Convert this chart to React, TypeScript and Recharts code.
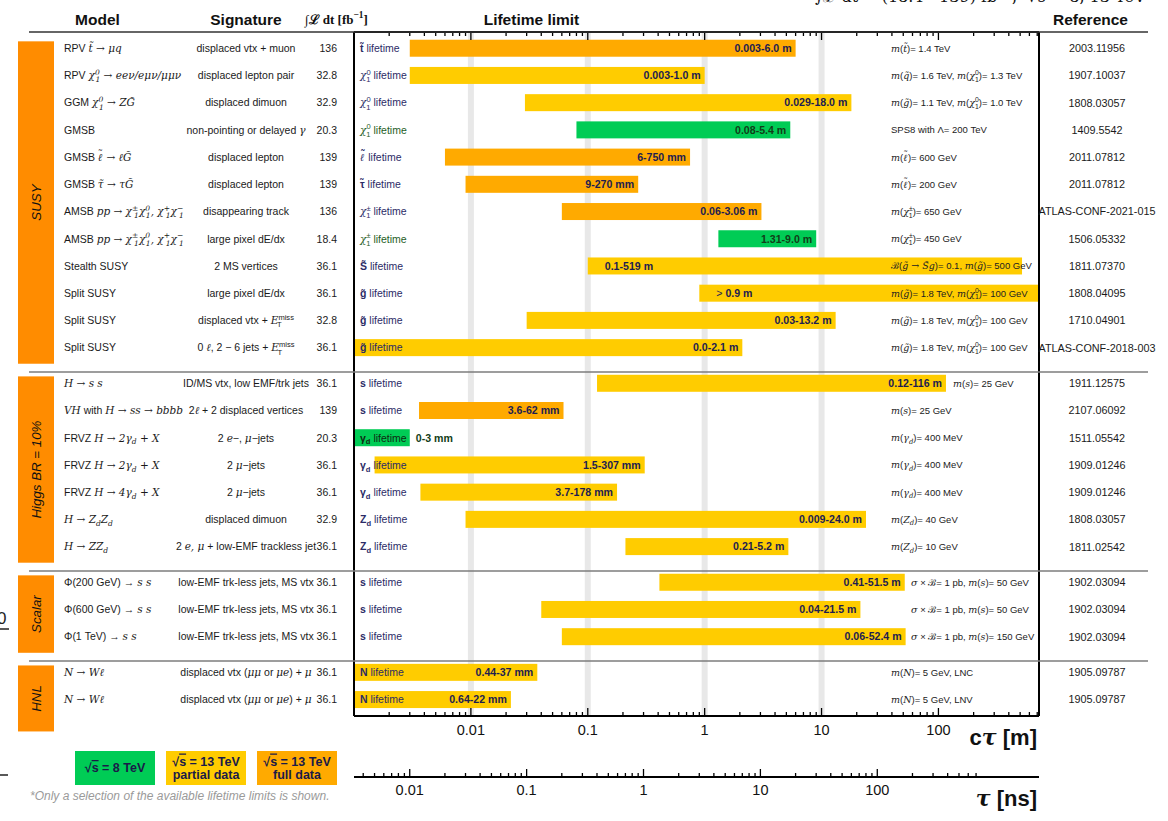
import React from 'react';
import { ComposedChart, Bar, XAxis, YAxis, ReferenceLine, CartesianGrid } from 'recharts';

const SANS = '"Liberation Sans", Arial, Helvetica, sans-serif';
const SERIF = '"DejaVu Serif", "Liberation Serif", serif';

// ---------------- data ----------------
const GROUPS = ['SUSY', 'Higgs BR = 10%', 'Scalar', 'HNL'];
const GROUP_OF_ROW = [0, 0, 0, 0, 0, 0, 0, 0, 0, 0, 0, 0, 1, 1, 1, 1, 1, 1, 1, 2, 2, 2, 3, 3];

const MODELS = [
  'RPV $t̃ → μq$',
  'RPV $χ^{0}_{1} → eeν/eμν/μμν$',
  'GGM $χ^{0}_{1} → ZG̃$',
  'GMSB',
  'GMSB $~{ℓ} → ℓG̃$',
  'GMSB $τ̃ → τG̃$',
  'AMSB $pp → χ^{±}_{1}χ^{0}_{1}, χ^{+}_{1}χ^{−}_{1}$',
  'AMSB $pp → χ^{±}_{1}χ^{0}_{1}, χ^{+}_{1}χ^{−}_{1}$',
  'Stealth SUSY',
  'Split SUSY',
  'Split SUSY',
  'Split SUSY',
  '$H → s s$',
  '$VH$ with $H → ss → bbbb$',
  'FRVZ $H → 2γ_{d} + X$',
  'FRVZ $H → 2γ_{d} + X$',
  'FRVZ $H → 4γ_{d} + X$',
  '$H → Z_{d}Z_{d}$',
  '$H → ZZ_{d}$',
  'Φ(200 GeV) → $s s$',
  'Φ(600 GeV) → $s s$',
  'Φ(1 TeV) → $s s$',
  '$N → Wℓ$',
  '$N → Wℓ$',
];

const SIGNATURES = [
  'displaced vtx + muon',
  'displaced lepton pair',
  'displaced dimuon',
  'non-pointing or delayed $γ$',
  'displaced lepton',
  'displaced lepton',
  'disappearing track',
  'large pixel dE/dx',
  '2 MS vertices',
  'large pixel dE/dx',
  'displaced vtx + $E$_{T}^{miss}',
  '0 $ℓ$, 2 − 6 jets + $E$_{T}^{miss}',
  'ID/MS vtx, low EMF/trk jets',
  '2$ℓ$ + 2 displaced vertices',
  '2 $e$−, $μ$−jets',
  '2 $μ$−jets',
  '2 $μ$−jets',
  'displaced dimuon',
  '2 $e, μ$ + low-EMF trackless jet',
  'low-EMF trk-less jets, MS vtx',
  'low-EMF trk-less jets, MS vtx',
  'low-EMF trk-less jets, MS vtx',
  'displaced vtx ($μμ$ or $μe$) + $μ$',
  'displaced vtx ($μμ$ or $μe$) + $μ$',
];

const LUMI = ['136', '32.8', '32.9', '20.3', '139', '139', '136', '18.4', '36.1', '36.1', '32.8', '36.1',
  '36.1', '139', '20.3', '36.1', '36.1', '32.9', '36.1', '36.1', '36.1', '36.1', '36.1', '36.1'];

const PARTICLES = [
  '*t̃* lifetime',
  '$χ$^{0}_{1} lifetime',
  '$χ$^{0}_{1} lifetime',
  '$χ$^{0}_{1} lifetime',
  '*$~{ℓ}$* lifetime',
  '*τ̃* lifetime',
  '$χ$^{±}_{1} lifetime',
  '$χ$^{±}_{1} lifetime',
  '*S̃* lifetime',
  '*g̃* lifetime',
  '*g̃* lifetime',
  '*g̃* lifetime',
  '*s* lifetime',
  '*s* lifetime',
  '*γ_{d}* lifetime',
  '*γ_{d}* lifetime',
  '*γ_{d}* lifetime',
  '*Z_{d}* lifetime',
  '*Z_{d}* lifetime',
  '*s* lifetime',
  '*s* lifetime',
  '*s* lifetime',
  '*N* lifetime',
  '*N* lifetime',
];

// dataset: '8' = sqrt(s)=8 TeV, 'partial' = 13 TeV partial data, 'full' = 13 TeV full data
const DATASET = ['full', 'partial', 'partial', '8', 'full', 'full', 'full', '8', 'partial', 'partial', 'partial', 'partial',
  'partial', 'full', '8', 'partial', 'partial', 'partial', 'partial',
  'partial', 'partial', 'partial', 'partial', 'partial'];

// excluded c*tau range [m]
const CTAU_LOW = [0.003, 0.003, 0.029, 0.08, 0.006, 0.009, 0.06, 1.31, 0.1, 0.9, 0.03, 0,
  0.12, 0.0036, 0, 0.0015, 0.0037, 0.009, 0.21, 0.41, 0.04, 0.06, 0.00044, 0.00064];
const CTAU_HIGH = [6.0, 1.0, 18.0, 5.4, 0.75, 0.27, 3.06, 9.0, 519, Infinity, 13.2, 2.1,
  116, 0.062, 0.003, 0.307, 0.178, 24.0, 5.2, 51.5, 21.5, 52.4, 0.037, 0.022];
const LIMIT_TEXT = ['0.003-6.0 m', '0.003-1.0 m', '0.029-18.0 m', '0.08-5.4 m', '6-750 mm', '9-270 mm',
  '0.06-3.06 m', '1.31-9.0 m', '0.1-519 m', '> 0.9 m', '0.03-13.2 m', '0.0-2.1 m',
  '0.12-116 m', '3.6-62 mm', '0-3 mm', '1.5-307 mm', '3.7-178 mm', '0.009-24.0 m', '0.21-5.2 m',
  '0.41-51.5 m', '0.04-21.5 m', '0.06-52.4 m', '0.44-37 mm', '0.64-22 mm'];

const ASSUMPTIONS = [
  '$m$($t̃$)= 1.4 TeV',
  '$m$($q̃$)= 1.6 TeV, $m$($χ$^{0}_{1})= 1.3 TeV',
  '$m$($g̃$)= 1.1 TeV, $m$($χ$^{0}_{1})= 1.0 TeV',
  'SPS8 with Λ= 200 TeV',
  '$m$($~{ℓ}$)= 600 GeV',
  '$m$($~{ℓ}$)= 200 GeV',
  '$m$($χ$^{±}_{1})= 650 GeV',
  '$m$($χ$^{±}_{1})= 450 GeV',
  'ℬ($g̃ → S̃g$)= 0.1, $m$($g̃$)= 500 GeV',
  '$m$($g̃$)= 1.8 TeV, $m$($χ$^{0}_{1})= 100 GeV',
  '$m$($g̃$)= 1.8 TeV, $m$($χ$^{0}_{1})= 100 GeV',
  '$m$($g̃$)= 1.8 TeV, $m$($χ$^{0}_{1})= 100 GeV',
  '$m$($s$)= 25 GeV',
  '$m$($s$)= 25 GeV',
  '$m$($γ_{d}$)= 400 MeV',
  '$m$($γ_{d}$)= 400 MeV',
  '$m$($γ_{d}$)= 400 MeV',
  '$m$($Z_{d}$)= 40 GeV',
  '$m$($Z_{d}$)= 10 GeV',
  '$σ$ × ℬ= 1 pb, $m$($s$)= 50 GeV',
  '$σ$ × ℬ= 1 pb, $m$($s$)= 50 GeV',
  '$σ$ × ℬ= 1 pb, $m$($s$)= 150 GeV',
  '$m$($N$)= 5 GeV, LNC',
  '$m$($N$)= 5 GeV, LNV',
];

const REFERENCES = ['2003.11956', '1907.10037', '1808.03057', '1409.5542', '2011.07812', '2011.07812',
  'ATLAS-CONF-2021-015', '1506.05332', '1811.07370', '1808.04095', '1710.04901', 'ATLAS-CONF-2018-003',
  '1911.12575', '2107.06092', '1511.05542', '1909.01246', '1909.01246', '1808.03057', '1811.02542',
  '1902.03094', '1902.03094', '1902.03094', '1905.09787', '1905.09787'];

const CTAU_MAJOR = [0.01, 0.1, 1, 10, 100];
const TAU_MAJOR = [0.01, 0.1, 1, 10, 100];
const DECADE_BANDS = [0.01, 0.1, 1, 10];
const DECADES = [0.001, 0.01, 0.1, 1, 10, 100];

// ---------------- layout / style ----------------
const COLORS: Record<string, string> = { '8': '#00CC55', partial: '#FFCC00', full: '#FFAA00' };
const GROUP_BOX = '#FF8C00';
const NAVY = '#2b2b66';
const DKGREEN = '#1f5e26';

const X_MIN = 0.001;
const X_MAX = 725;
const C_LIGHT = 0.299792458; // m per ns
const TAU_MIN = X_MIN / C_LIGHT;
const TAU_MAX = X_MAX / C_LIGHT;
const TAU_TICK_LIMIT = 700;

const GAP = 0.31;
const ROW_POS = GROUP_OF_ROW.map((g, i) => i + g * GAP);
const Y_MIN = -0.6;
const Y_MAX = ROW_POS[ROW_POS.length - 1] + 0.6;

const W = 1168;
const H = 821;
const MARGIN = { top: 0, right: 129, bottom: 14, left: 0 };
const TOP_AXIS_H = 32;
const CT_AXIS_H = 61;
const TAU_AXIS_H = 30;
const Y_AXIS_W = 354;
const PLOT_H = H - MARGIN.top - MARGIN.bottom - TOP_AXIS_H - CT_AXIS_H - TAU_AXIS_H;
const PX_PER_ROW = PLOT_H / (Y_MAX - Y_MIN);

const ASSUMPTION_X_DEFAULT = 891;
const ASSUMPTION_X_OVERRIDE: Record<number, number> = { 12: 953, 19: 911, 20: 911, 21: 911 };
const LABEL_PLACE: Record<number, string> = { 8: 'start', 9: 'start', 14: 'outside' };

const buildTicks = (lo: number, hi: number) => {
  const out: number[] = [];
  DECADES.forEach((d) => {
    for (let k = 1; k <= 9; k++) {
      const v = +(k * d).toPrecision(6);
      if (v > lo * 1.0001 && v <= hi * 1.0001) out.push(v);
    }
  });
  return out;
};
const CT_TICKS = buildTicks(X_MIN, X_MAX);
const TAU_TICKS = buildTicks(TAU_MIN, TAU_TICK_LIMIT);

const chartData = ROW_POS.map((pos, i) => ({
  row: i,
  pos,
  range: [Math.max(CTAU_LOW[i], X_MIN), Math.min(CTAU_HIGH[i], X_MAX)],
}));

// ---------------- rich text ----------------
type Seg = { kind: 'n' | 'sup' | 'sub' | 'stack' | 'acc'; text: string; sup?: string; sub?: string; italic: boolean; bold: boolean };

function parseRich(s: string): Seg[] {
  const segs: Seg[] = [];
  let italic = false;
  let bold = false;
  let buf = '';
  const flush = () => {
    if (buf) {
      segs.push({ kind: 'n', text: buf, italic, bold });
      buf = '';
    }
  };
  let i = 0;
  while (i < s.length) {
    const c = s[i];
    if (c === '$') { flush(); italic = !italic; i++; continue; }
    if (c === '*') { flush(); bold = !bold; i++; continue; }
    if (c === '~' && s[i + 1] === '{') {
      flush();
      const end = s.indexOf('}', i);
      segs.push({ kind: 'acc', text: s.slice(i + 2, end), italic, bold });
      i = end + 1;
      continue;
    }
    if ((c === '^' || c === '_') && s[i + 1] === '{') {
      flush();
      const end = s.indexOf('}', i);
      const content = s.slice(i + 2, end);
      let j = end + 1;
      let sup: string | undefined;
      let sub: string | undefined;
      if (c === '^') sup = content; else sub = content;
      const c2 = s[j];
      if ((c2 === '^' || c2 === '_') && c2 !== c && s[j + 1] === '{') {
        const end2 = s.indexOf('}', j);
        const content2 = s.slice(j + 2, end2);
        if (c2 === '^') sup = content2; else sub = content2;
        j = end2 + 1;
      }
      if (sup !== undefined && sub !== undefined) segs.push({ kind: 'stack', text: '', sup, sub, italic, bold });
      else if (sup !== undefined) segs.push({ kind: 'sup', text: sup, italic, bold });
      else segs.push({ kind: 'sub', text: sub as string, italic, bold });
      i = j;
      continue;
    }
    buf += c;
    i++;
  }
  flush();
  return segs;
}

const estW = (s: string, size: number) => s.length * size * 0.56;

function Rich({ x, y, text, size, anchor = 'start', fill = '#1a1a1a', bold = false, family = SANS }: any) {
  const segs = parseRich(text);
  const small = size * 0.72;
  const out: any[] = [];
  let cur = 0;
  let pend = 0;
  segs.forEach((sg, k) => {
    const st: any = {};
    if (sg.italic) { st.fontStyle = 'italic'; st.fontFamily = SERIF; }
    if (sg.bold) st.fontWeight = 'bold';
    if (sg.kind === 'n') {
      out.push(<tspan key={k} dx={pend || undefined} dy={-cur} {...st}>{sg.text}</tspan>);
      cur = 0; pend = 0;
    } else if (sg.kind === 'acc') {
      // base glyph with a tilde placed above it
      const baseW = size * 0.45;
      const tilW = size * 0.5;
      const up = -size * 0.3;
      out.push(<tspan key={k + 'a'} dx={pend || undefined} dy={-cur} {...st}>{sg.text}</tspan>);
      out.push(<tspan key={k + 'b'} dx={-(baseW + tilW) / 2 + size * 0.06} dy={up} {...st} fontStyle="normal">{'˜'}</tspan>);
      cur = up; pend = (baseW - tilW) / 2 + size * 0.02;
    } else if (sg.kind === 'sup' || sg.kind === 'sub') {
      const t = sg.kind === 'sup' ? -size * 0.4 : size * 0.28;
      out.push(<tspan key={k} dx={pend || undefined} dy={t - cur} fontSize={small} {...st}>{sg.text}</tspan>);
      cur = t; pend = 0;
    } else {
      const t1 = -size * 0.42;
      const t2 = size * 0.3;
      const w1 = estW(sg.sup as string, small);
      const w2 = estW(sg.sub as string, small);
      out.push(<tspan key={k + 'a'} dx={pend || undefined} dy={t1 - cur} fontSize={small} {...st}>{sg.sup}</tspan>);
      out.push(<tspan key={k + 'b'} dx={-w1} dy={t2 - t1} fontSize={small} {...st}>{sg.sub}</tspan>);
      cur = t2; pend = Math.max(0, w1 - w2);
    }
  });
  return (
    <text x={x} y={y} textAnchor={anchor} fontSize={size} fill={fill} fontFamily={family}
      fontWeight={bold ? 'bold' : 'normal'} style={{ whiteSpace: 'pre' }}>
      {out}
    </text>
  );
}

// ---------------- renderers ----------------
function RowTick(props: any) {
  const { y, payload } = props;
  const i = ROW_POS.indexOf(payload?.value);
  if (i < 0 || y == null) return <g />;
  const g = GROUP_OF_ROW[i];
  const first = i === 0 || GROUP_OF_ROW[i - 1] !== g;
  const nRows = GROUP_OF_ROW.filter((v) => v === g).length;
  const base = y + 3.7;
  const ds = DATASET[i];
  const labelOnBar = CTAU_LOW[i] <= X_MIN;
  const particleColor = ds === '8' ? (labelOnBar ? '#0f2a12' : DKGREEN) : NAVY;
  const els: any[] = [];
  if (first) {
    const top = y - 7;
    const h = Math.max((nRows - 1) * PX_PER_ROW + 23, 66);
    els.push(<rect key="gb" x={18} y={top} width={36} height={h} fill={GROUP_BOX} />);
    els.push(
      <text key="gt" transform={`translate(41, ${top + h / 2}) rotate(-90)`} textAnchor="middle"
        fontSize={13.3} fontStyle="italic" fontFamily={SANS} fill="#111">{GROUPS[g]}</text>
    );
    if (g > 0) {
      const ly = y - 0.42 * PX_PER_ROW;
      els.push(<line key="sep" x1={29} x2={1148} y1={ly} y2={ly} stroke="#7c7c7c" strokeWidth={1.5} />);
    }
  }
  return (
    <g>
      {els}
      <Rich x={64} y={base} text={MODELS[i]} size={10.5} />
      <Rich x={246} y={base} text={SIGNATURES[i]} size={10.5} anchor="middle" />
      <text x={337} y={base} textAnchor="end" fontSize={10.5} fontFamily={SANS} fill="#1a1a1a">{LUMI[i]}</text>
      <Rich x={360} y={base} text={PARTICLES[i]} size={10.5} fill={particleColor} />
      <Rich x={ASSUMPTION_X_OVERRIDE[i] ?? ASSUMPTION_X_DEFAULT} y={y + 3.3} text={ASSUMPTIONS[i]} size={9.5} fill="#222" />
      <text x={1097} y={y + 3.8} textAnchor="middle" fontSize={10.8} fontFamily={SANS} fill="#1a1a1a">{REFERENCES[i]}</text>
    </g>
  );
}

function LimitBar(props: any) {
  const { x, y, width, height, payload } = props;
  if (x == null || width == null) return <g />;
  const i = payload?.row ?? props.index;
  const ds = DATASET[i];
  const place = LABEL_PLACE[i] ?? 'end';
  let tx = x + width - 4;
  let anchor = 'end';
  if (place === 'start') { tx = x + 17; anchor = 'start'; }
  if (place === 'outside') { tx = x + width + 6; anchor = 'start'; }
  const label = LIMIT_TEXT[i];
  const color = ds === '8' ? '#123d18' : '#1d1d50';
  const isGt = label.startsWith('>');
  return (
    <g>
      <rect x={x} y={y} width={width} height={height} fill={COLORS[ds]} />
      <text x={tx} y={y + height / 2 + 3.8} textAnchor={anchor} fontSize={10.6} fontWeight="bold"
        fontFamily={SANS} fill={color} style={{ whiteSpace: 'pre' }}>
        {isGt ? (<><tspan fontWeight="normal">{'>'}</tspan><tspan>{label.slice(1)}</tspan></>) : label}
      </text>
    </g>
  );
}

const isMajor = (v: number, majors: number[]) => majors.some((m) => Math.abs(m - v) / m < 1e-6);

const makeXTick = (dir: number, labelDy: number | null, majors: number[]) => (props: any) => {
  const { x, y, payload } = props;
  const v = payload?.value;
  if (x == null || v == null) return <g />;
  const major = isMajor(v, majors);
  const len = major ? 8 : 4;
  return (
    <g>
      <line x1={x} x2={x} y1={y} y2={y + dir * len} stroke="#000" strokeWidth={1.3} />
      {major && labelDy !== null && (
        <text x={x} y={y + labelDy} textAnchor="middle" fontSize={14.5} fontFamily={SANS} fill="#111">{String(v)}</text>
      )}
    </g>
  );
};

const TopTick = makeXTick(1, null, CTAU_MAJOR);
const CtTick = makeXTick(-1, 19, CTAU_MAJOR);
const TauTick = makeXTick(-1, 18, TAU_MAJOR);

function Overlay() {
  return (
    <svg width={W} height={H} style={{ position: 'absolute', left: 0, top: 0, pointerEvents: 'none' }}>
      {/* cut-off luminosity label at the very top */}
      <text x={815} y={2} fontSize={16} fontFamily={SERIF} fill="#111" style={{ whiteSpace: 'pre' }}>∫ℒ dt = (18.4 - 139) fb⁻¹,  √s = 8, 13 TeV</text>
      {/* header */}
      <text x={97.5} y={24.5} textAnchor="middle" fontSize={15.5} fontWeight="bold" fontFamily={SANS} fill="#111">Model</text>
      <text x={246} y={24.5} textAnchor="middle" fontSize={15.5} fontWeight="bold" fontFamily={SANS} fill="#111">Signature</text>
      <Rich x={305} y={23.5} text="∫ℒ dt [fb^{−1}]" size={13} bold family='"Liberation Serif", serif' fill="#111" />
      <text x={531.5} y={24.5} textAnchor="middle" fontSize={15.5} fontWeight="bold" fontFamily={SANS} fill="#111">Lifetime limit</text>
      <text x={1090.5} y={24.5} textAnchor="middle" fontSize={15.5} fontWeight="bold" fontFamily={SANS} fill="#111">Reference</text>
      <line x1={29} x2={1148} y1={32} y2={32} stroke="#333" strokeWidth={1.6} />
      {/* axis titles */}
      <text x={1037} y={745} textAnchor="end" fontSize={22} fontWeight="bold" fontFamily={SANS} fill="#111" style={{ whiteSpace: 'pre' }}>
        c<tspan fontFamily={SERIF} fontStyle="italic">τ</tspan> [m]
      </text>
      <text x={1037} y={806} textAnchor="end" fontSize={22} fontWeight="bold" fontFamily={SANS} fill="#111" style={{ whiteSpace: 'pre' }}>
        <tspan fontFamily={SERIF} fontStyle="italic">τ</tspan> [ns]
      </text>
      {/* legend */}
      <rect x={75} y={751} width={80} height={34} fill={COLORS['8']} />
      <text x={115} y={772} textAnchor="middle" fontSize={12.5} fontWeight="bold" fontFamily={SANS} fill="#1a1a48">
        √<tspan style={{ textDecoration: 'overline' }}>s</tspan> = 8 TeV
      </text>
      <rect x={166} y={751} width={80} height={34} fill={COLORS.partial} />
      <text x={206} y={765.5} textAnchor="middle" fontSize={12.5} fontWeight="bold" fontFamily={SANS} fill="#1a1a48">
        √<tspan style={{ textDecoration: 'overline' }}>s</tspan> = 13 TeV
      </text>
      <text x={206} y={779} textAnchor="middle" fontSize={12.5} fontWeight="bold" fontFamily={SANS} fill="#1a1a48">partial data</text>
      <rect x={257} y={751} width={80} height={34} fill={COLORS.full} />
      <text x={297} y={765.5} textAnchor="middle" fontSize={12.5} fontWeight="bold" fontFamily={SANS} fill="#1a1a48">
        √<tspan style={{ textDecoration: 'overline' }}>s</tspan> = 13 TeV
      </text>
      <text x={297} y={779} textAnchor="middle" fontSize={12.5} fontWeight="bold" fontFamily={SANS} fill="#1a1a48">full data</text>
      {/* footnote */}
      <text x={30} y={800} fontSize={12} fontStyle="italic" fontFamily={SANS} fill="#9a9a9a">*Only a selection of the available lifetime limits is shown.</text>
      {/* edge remnants of neighbouring panel */}
      <text x={-3} y={624} fontSize={17} fontFamily={SANS} fill="#222">0</text>
      <line x1={0} x2={9} y1={629} y2={629} stroke="#222" strokeWidth={1.5} />
      <line x1={0} x2={8} y1={775} y2={775} stroke="#222" strokeWidth={1.5} />
    </svg>
  );
}

export default function App() {
  return (
    <div style={{ position: 'absolute', left: 0, top: 0, width: W, height: H, background: '#fff' }}>
      <ComposedChart width={W} height={H} data={chartData} layout="vertical" margin={MARGIN}>
        <CartesianGrid xAxisId="ct" horizontal={false} verticalValues={DECADE_BANDS}
          stroke="#e8e8e8" strokeWidth={6} />
        <Bar xAxisId="ct" dataKey="range" barSize={17} shape={(p: any) => <LimitBar {...p} />} isAnimationActive={false} />
        <ReferenceLine xAxisId="ct" x={X_MAX} stroke="#000" strokeWidth={2} />
        <XAxis xAxisId="top" orientation="top" type="number" scale="log" domain={[X_MIN, X_MAX]} allowDataOverflow
          ticks={CT_TICKS} interval={0} tick={TopTick} tickLine={false} tickSize={0} tickMargin={0}
          axisLine={{ stroke: '#000', strokeWidth: 2 }} height={TOP_AXIS_H} />
        <XAxis xAxisId="ct" orientation="bottom" type="number" scale="log" domain={[X_MIN, X_MAX]} allowDataOverflow
          ticks={CT_TICKS} interval={0} tick={CtTick} tickLine={false} tickSize={0} tickMargin={0}
          axisLine={{ stroke: '#000', strokeWidth: 2 }} height={CT_AXIS_H} />
        <XAxis xAxisId="tau" orientation="bottom" type="number" scale="log" domain={[TAU_MIN, TAU_MAX]} allowDataOverflow
          ticks={TAU_TICKS} interval={0} tick={TauTick} tickLine={false} tickSize={0} tickMargin={0}
          axisLine={{ stroke: '#000', strokeWidth: 2 }} height={TAU_AXIS_H} />
        <YAxis type="number" dataKey="pos" domain={[Y_MIN, Y_MAX]} allowDataOverflow
          ticks={ROW_POS} interval={0} tick={RowTick} tickLine={false} tickSize={0}
          axisLine={{ stroke: '#000', strokeWidth: 2 }} width={Y_AXIS_W} />
      </ComposedChart>
      <Overlay />
    </div>
  );
}
